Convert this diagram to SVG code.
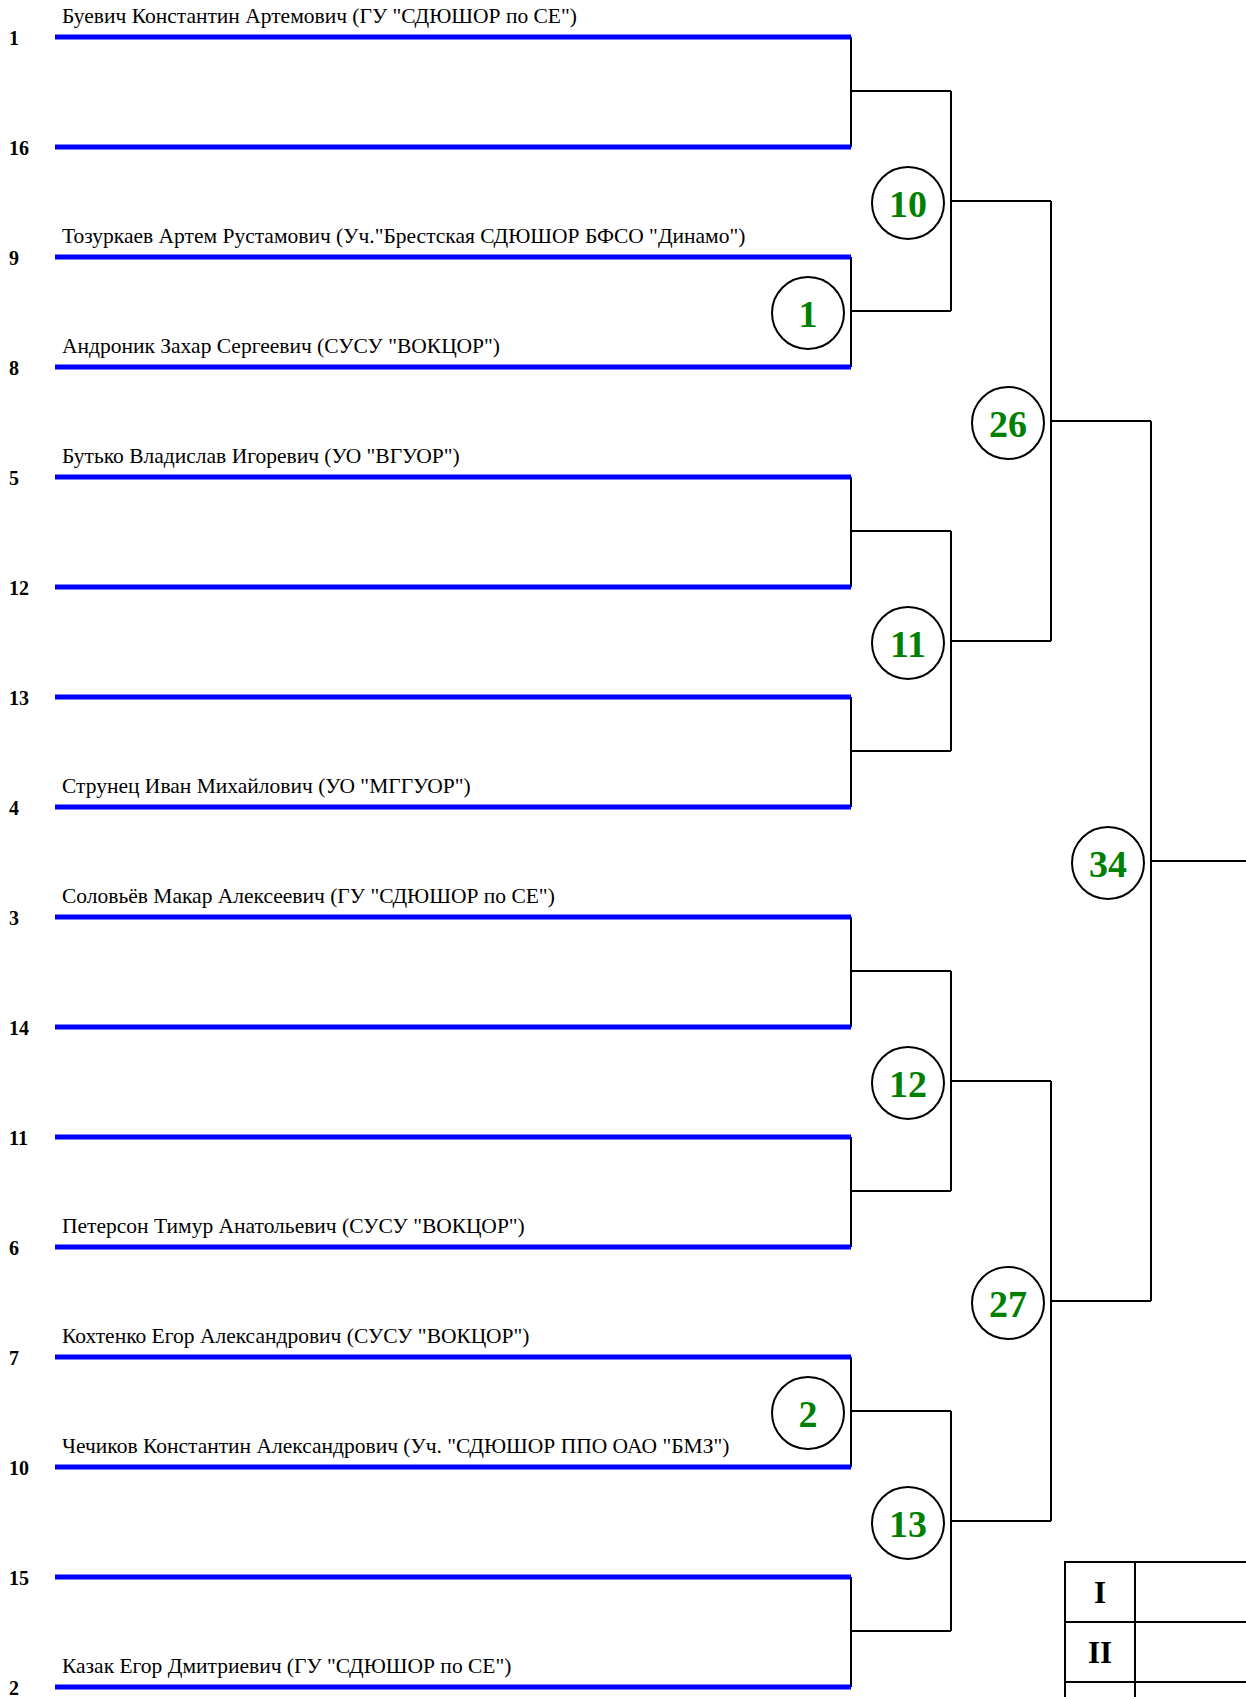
<svg xmlns="http://www.w3.org/2000/svg" width="1246" height="1697" viewBox="0 0 1246 1697">
<style>
.bl{stroke:#0000ff;stroke-width:5;fill:none}
.ln{stroke:#000;stroke-width:2;fill:none}
.nm{font-family:"Liberation Serif","Times New Roman",serif;font-size:21.5px;fill:#000}
.sd{font-family:"Liberation Serif","Times New Roman",serif;font-size:20px;font-weight:bold;fill:#000}
.mc{fill:#fff;stroke:#000;stroke-width:2}
.mt{font-family:"Liberation Serif","Times New Roman",serif;font-size:38px;font-weight:bold;fill:#008000;text-anchor:middle}
.tl{font-family:"Liberation Serif","Times New Roman",serif;font-size:31px;font-weight:bold;fill:#000;text-anchor:middle}
</style>
<rect width="1246" height="1697" fill="#fff"/>
<g id="connectors">
<path class="ln" d="M851,37V147M851,91H951M851,257V367M851,311H951M851,477V587M851,531H951M851,697V807M851,751H951M851,917V1027M851,971H951M851,1137V1247M851,1191H951M851,1357V1467M851,1411H951M851,1577V1687M851,1631H951"/>
<path class="ln" d="M951,91V311M951,201H1051M951,531V751M951,641H1051M951,971V1191M951,1081H1051M951,1411V1631M951,1521H1051"/>
<path class="ln" d="M1051,201V641M1051,421H1151M1051,1081V1521M1051,1301H1151"/>
<path class="ln" d="M1151,421V1301M1151,861H1246"/>
</g>
<g id="p1"><line class="bl" x1="55" y1="37" x2="851" y2="37"/><text class="sd" x="9" y="45">1</text><text class="nm" x="62" y="23">Буевич Константин Артемович (ГУ "СДЮШОР по СЕ")</text></g>
<g id="p16"><line class="bl" x1="55" y1="147" x2="851" y2="147"/><text class="sd" x="9" y="155">16</text></g>
<g id="p9"><line class="bl" x1="55" y1="257" x2="851" y2="257"/><text class="sd" x="9" y="265">9</text><text class="nm" x="62" y="243">Тозуркаев Артем Рустамович (Уч."Брестская СДЮШОР БФСО "Динамо")</text></g>
<g id="p8"><line class="bl" x1="55" y1="367" x2="851" y2="367"/><text class="sd" x="9" y="375">8</text><text class="nm" x="62" y="353">Андроник Захар Сергеевич (СУСУ "ВОКЦОР")</text></g>
<g id="p5"><line class="bl" x1="55" y1="477" x2="851" y2="477"/><text class="sd" x="9" y="485">5</text><text class="nm" x="62" y="463">Бутько Владислав Игоревич (УО "ВГУОР")</text></g>
<g id="p12"><line class="bl" x1="55" y1="587" x2="851" y2="587"/><text class="sd" x="9" y="595">12</text></g>
<g id="p13"><line class="bl" x1="55" y1="697" x2="851" y2="697"/><text class="sd" x="9" y="705">13</text></g>
<g id="p4"><line class="bl" x1="55" y1="807" x2="851" y2="807"/><text class="sd" x="9" y="815">4</text><text class="nm" x="62" y="793">Струнец Иван Михайлович (УО "МГГУОР")</text></g>
<g id="p3"><line class="bl" x1="55" y1="917" x2="851" y2="917"/><text class="sd" x="9" y="925">3</text><text class="nm" x="62" y="903">Соловьёв Макар Алексеевич (ГУ "СДЮШОР по СЕ")</text></g>
<g id="p14"><line class="bl" x1="55" y1="1027" x2="851" y2="1027"/><text class="sd" x="9" y="1035">14</text></g>
<g id="p11"><line class="bl" x1="55" y1="1137" x2="851" y2="1137"/><text class="sd" x="9" y="1145">11</text></g>
<g id="p6"><line class="bl" x1="55" y1="1247" x2="851" y2="1247"/><text class="sd" x="9" y="1255">6</text><text class="nm" x="62" y="1233">Петерсон Тимур Анатольевич (СУСУ "ВОКЦОР")</text></g>
<g id="p7"><line class="bl" x1="55" y1="1357" x2="851" y2="1357"/><text class="sd" x="9" y="1365">7</text><text class="nm" x="62" y="1343">Кохтенко Егор Александрович (СУСУ "ВОКЦОР")</text></g>
<g id="p10"><line class="bl" x1="55" y1="1467" x2="851" y2="1467"/><text class="sd" x="9" y="1475">10</text><text class="nm" x="62" y="1453">Чечиков Константин Александрович (Уч. "СДЮШОР ППО ОАО "БМЗ")</text></g>
<g id="p15"><line class="bl" x1="55" y1="1577" x2="851" y2="1577"/><text class="sd" x="9" y="1585">15</text></g>
<g id="p2"><line class="bl" x1="55" y1="1687" x2="851" y2="1687"/><text class="sd" x="9" y="1695">2</text><text class="nm" x="62" y="1673">Казак Егор Дмитриевич (ГУ "СДЮШОР по СЕ")</text></g>
<g id="m1"><circle class="mc" cx="808" cy="313" r="36"/><text class="mt" x="808" y="327">1</text></g>
<g id="m2"><circle class="mc" cx="808" cy="1413" r="36"/><text class="mt" x="808" y="1427">2</text></g>
<g id="m10"><circle class="mc" cx="908" cy="203" r="36"/><text class="mt" x="908" y="217">10</text></g>
<g id="m11"><circle class="mc" cx="908" cy="643" r="36"/><text class="mt" x="908" y="657">11</text></g>
<g id="m12"><circle class="mc" cx="908" cy="1083" r="36"/><text class="mt" x="908" y="1097">12</text></g>
<g id="m13"><circle class="mc" cx="908" cy="1523" r="36"/><text class="mt" x="908" y="1537">13</text></g>
<g id="m26"><circle class="mc" cx="1008" cy="423" r="36"/><text class="mt" x="1008" y="437">26</text></g>
<g id="m27"><circle class="mc" cx="1008" cy="1303" r="36"/><text class="mt" x="1008" y="1317">27</text></g>
<g id="m34"><circle class="mc" cx="1108" cy="863" r="36"/><text class="mt" x="1108" y="877">34</text></g>
<g id="places">
<path class="ln" d="M1065,1697V1562H1246M1135,1562V1697M1065,1622H1246M1065,1682H1246"/>
<text class="tl" x="1100" y="1603">I</text>
<text class="tl" x="1100" y="1663">II</text>
</g>
</svg>
